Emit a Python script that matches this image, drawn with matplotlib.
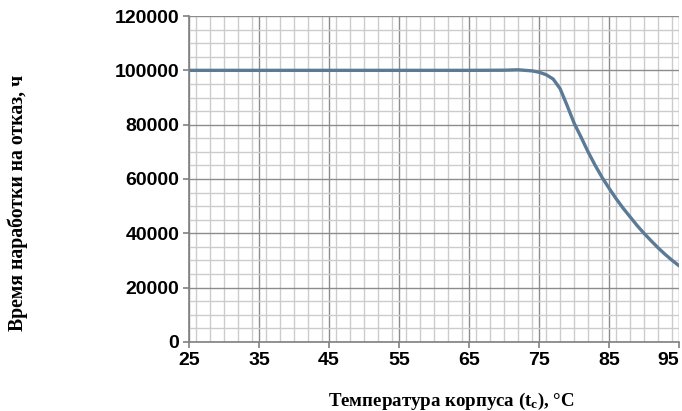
import matplotlib
matplotlib.use("Agg")
import matplotlib.pyplot as plt
from matplotlib.ticker import MultipleLocator

temps = [25, 35, 45, 55, 65, 70, 72, 74, 75, 76, 77, 78, 79, 80, 81, 82, 83, 84,
         85, 86, 87, 88, 89, 90, 91, 92, 93, 94, 95]
hours = [100000, 100000, 100000, 100000, 100000, 100050, 100200, 99800, 99300,
         98400, 96800, 93200, 87000, 80500, 75300, 69900, 65000, 60500,
         56500, 52700, 49200, 46000, 42800, 39900, 37200, 34600, 32200, 30000, 28000]
x_ticks = [25, 35, 45, 55, 65, 75, 85, 95]
y_ticks = [0, 20000, 40000, 60000, 80000, 100000, 120000]
x_label = "Температура корпуса (t$_{\\rm c}$), °C"
y_label = "Время наработки на отказ, ч"

plt.rcParams['mathtext.fontset'] = 'custom'
plt.rcParams['mathtext.rm'] = 'Liberation Serif:bold'
plt.rcParams['mathtext.it'] = 'Liberation Serif:bold'
plt.rcParams['mathtext.bf'] = 'Liberation Serif:bold'

fig = plt.figure(figsize=(6.82, 4.11), dpi=100)
ax = fig.add_axes([0.277, 0.168, 0.719, 0.793])

ax.set_xlim(25, 95)
ax.set_ylim(0, 120000)
ax.set_xticks(x_ticks)
ax.set_yticks(y_ticks)
ax.xaxis.set_minor_locator(MultipleLocator(2))
ax.yaxis.set_minor_locator(MultipleLocator(5000))
ax.grid(which='minor', color='#cccccc', linewidth=1.0)
ax.grid(which='major', color='#8c8c8c', linewidth=1.0)
ax.set_axisbelow(True)

ax.plot(temps, hours, color='#5b7a96', linewidth=2.4, solid_capstyle='round')

for s in ['top', 'right']:
    ax.spines[s].set_visible(False)
for s in ['left', 'bottom']:
    ax.spines[s].set_color('#808080')
    ax.spines[s].set_linewidth(1.2)
ax.tick_params(which='major', direction='out', length=4, width=1.2, color='#808080',
               pad=3)
ax.tick_params(which='minor', length=0)
for lab in ax.get_xticklabels() + ax.get_yticklabels():
    lab.set_fontfamily('Liberation Sans')
    lab.set_fontweight('bold')
    lab.set_fontsize(14)
ax.get_xticklabels()[-1].set_horizontalalignment('right')

fig.text(0.661, 0.024, x_label, ha='center', va='center', fontsize=13.6,
         fontweight='bold', family='Liberation Serif')
fig.text(0.026, 0.506, y_label, ha='center', va='center', rotation=90, fontsize=14.2,
         fontweight='bold', family='Liberation Serif')

fig.savefig('out.png', dpi=100)
